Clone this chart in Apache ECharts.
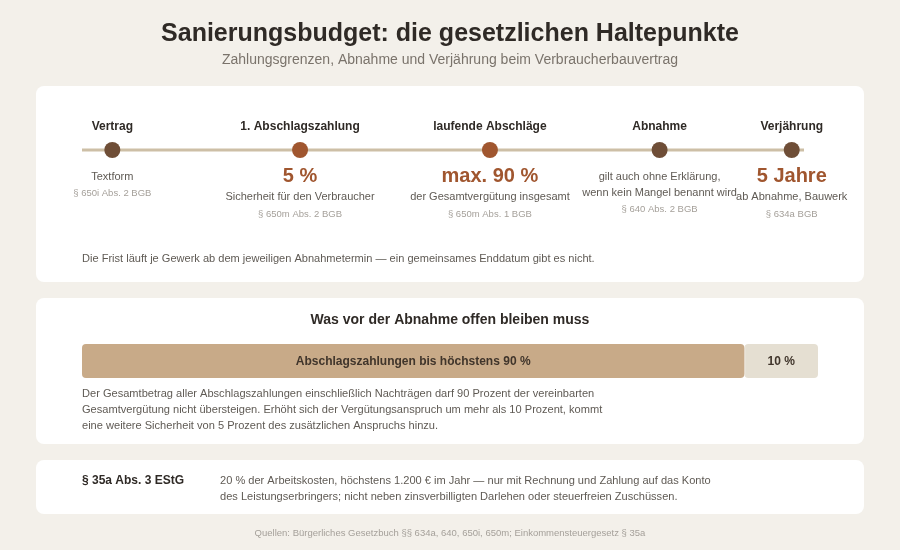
<!DOCTYPE html>
<html lang="de">
<head>
<meta charset="utf-8">
<title>Sanierungsbudget</title>
<script src="https://cdn.jsdelivr.net/npm/echarts@6/dist/echarts.min.js"></script>
<style>
  html, body { margin: 0; padding: 0; background: #f3f0ea; }
  #chart { width: 900px; height: 550px; }
</style>
</head>
<body>
<div id="chart"></div>
<script>
"use strict";

// Timeline stages, position in percent of the line length
var stageNames = ['Vertrag', '1. Abschlagszahlung', 'laufende Abschläge', 'Abnahme', 'Verjährung'];
var stagePositions = [4.2, 30.2, 56.5, 80, 98.3];
var stageBig = ['', '5 %', 'max. 90 %', '', '5 Jahre'];
var stageNotes = ['Textform', 'Sicherheit für den Verbraucher', 'der Gesamtvergütung insgesamt',
  'gilt auch ohne Erklärung,\nwenn kein Mangel benannt wird', 'ab Abnahme, Bauwerk'];
var stageRefs = ['§ 650i Abs. 2 BGB', '§ 650m Abs. 2 BGB', '§ 650m Abs. 1 BGB', '§ 640 Abs. 2 BGB', '§ 634a BGB'];
var stageColors = ['#6f4e37', '#a0562f', '#a0562f', '#6f4e37', '#6f4e37'];

// Split of the total price before acceptance
var splitNames = ['Abschlagszahlungen bis höchstens 90 %', '10 %'];
var splitValues = [90, 10];

var FONT = '"Liberation Sans", Arial, sans-serif';
var chart = echarts.init(document.getElementById('chart'));

function card(y, h) {
  return {
    type: 'rect', z: -1,
    shape: { x: 36, y: y, width: 828, height: h, r: 8 },
    style: { fill: '#ffffff' }
  };
}

function text(x, y, str, size, color, weight, align) {
  return {
    type: 'text', z: 10, x: x, y: y,
    style: {
      text: str, fill: color, fontFamily: FONT, fontSize: size,
      fontWeight: weight || 'normal', align: align || 'left', verticalAlign: 'middle'
    }
  };
}

var stagePoints = stagePositions.map(function (p, i) {
  return {
    value: [p, 0.5],
    name: stageNames[i],
    itemStyle: { color: stageColors[i], opacity: 1 }
  };
});

// Text under each dot: stages with a big figure start higher than the plain ones
var stageDetails = stagePositions.map(function (p, i) {
  var accent = stageBig[i] !== '';
  var below = accent
    ? '{big|' + stageBig[i] + '}\n{note|' + stageNotes[i] + '}\n{ref|' + stageRefs[i] + '}'
    : stageNotes[i].split('\n').map(function (l) { return '{note|' + l + '}'; }).join('\n') + '\n{ref2|' + stageRefs[i] + '}';
  return {
    value: [p, 0.5],
    below: below,
    label: { distance: accent ? 5 : 11 }
  };
});

var option = {
  backgroundColor: '#f3f0ea',
  animation: false,
  textStyle: { fontFamily: FONT },
  grid: [
    { left: 82, width: 722, top: 140, height: 20 },
    { left: 82, width: 736, top: 344, height: 34 }
  ],
  xAxis: [
    { gridIndex: 0, type: 'value', min: 0, max: 100, show: false },
    { gridIndex: 1, type: 'value', min: 0, max: 100, show: false }
  ],
  yAxis: [
    { gridIndex: 0, type: 'value', min: 0, max: 1, show: false },
    { gridIndex: 1, type: 'category', data: ['Summe'], show: false }
  ],
  series: [
    {
      type: 'line', xAxisIndex: 0, yAxisIndex: 0, symbol: 'none', silent: true,
      data: [[0, 0.5], [100, 0.5]],
      lineStyle: { color: '#cdbfa6', width: 3 }, z: 1
    },
    {
      type: 'scatter', xAxisIndex: 0, yAxisIndex: 0, symbolSize: 16, z: 3,
      data: stagePoints,
      label: {
        show: true, position: 'top', distance: 9,
        formatter: function (p) { return p.name; },
        fontFamily: FONT, fontSize: 12, fontWeight: 'bold', color: '#2f2a26'
      }
    },
    {
      type: 'scatter', xAxisIndex: 0, yAxisIndex: 0, symbolSize: 16, z: 2,
      itemStyle: { color: 'rgba(0,0,0,0)', opacity: 1 },
      data: stageDetails,
      label: {
        show: true, position: 'bottom', distance: 5, align: 'center',
        formatter: function (p) { return p.data.below; },
        rich: {
          big: { fontFamily: FONT, fontSize: 20, fontWeight: 'bold', color: '#a0562f', lineHeight: 26, align: 'center' },
          note: { fontFamily: FONT, fontSize: 11, color: '#5f5a54', lineHeight: 16, align: 'center' },
          ref: { fontFamily: FONT, fontSize: 9.5, color: '#a5a09a', lineHeight: 18, align: 'center' },
          ref2: { fontFamily: FONT, fontSize: 9.5, color: '#a5a09a', lineHeight: 16, align: 'center' }
        }
      }
    },
    {
      type: 'bar', xAxisIndex: 1, yAxisIndex: 1, stack: 'split', barWidth: 34, z: 3,
      name: splitNames[0], data: [splitValues[0]],
      itemStyle: { color: '#c8aa88', borderRadius: 4, shadowColor: '#ffffff', shadowBlur: 2 },
      label: {
        show: true, position: 'inside', formatter: splitNames[0], offset: [0, 1],
        fontFamily: FONT, fontSize: 12, fontWeight: 'bold', color: '#40352b'
      }
    },
    {
      type: 'bar', xAxisIndex: 1, yAxisIndex: 1, stack: 'split', barWidth: 34, z: 2,
      name: splitNames[1], data: [splitValues[1]],
      itemStyle: { color: '#e5dfd2', borderRadius: 4 },
      label: {
        show: true, position: 'inside', formatter: splitNames[1], offset: [0, 1],
        fontFamily: FONT, fontSize: 12, fontWeight: 'bold', color: '#40352b'
      }
    }
  ],
  graphic: [
    card(86, 196), card(298, 146), card(460, 54),
    text(450, 34, 'Sanierungsbudget: die gesetzlichen Haltepunkte', 25, '#2f2a26', 'bold', 'center'),
    text(450, 60, 'Zahlungsgrenzen, Abnahme und Verjährung beim Verbraucherbauvertrag', 14, '#7a736b', 'normal', 'center'),
    text(82, 258.5, 'Die Frist läuft je Gewerk ab dem jeweiligen Abnahmetermin — ein gemeinsames Enddatum gibt es nicht.', 11.06, '#5f5a54'),
    text(450, 320, 'Was vor der Abnahme offen bleiben muss', 14, '#2f2a26', 'bold', 'center'),
    text(82, 394, 'Der Gesamtbetrag aller Abschlagszahlungen einschließlich Nachträgen darf 90 Prozent der vereinbarten', 11.07, '#5f5a54'),
    text(82, 410, 'Gesamtvergütung nicht übersteigen. Erhöht sich der Vergütungsanspruch um mehr als 10 Prozent, kommt', 11.07, '#5f5a54'),
    text(82, 426, 'eine weitere Sicherheit von 5 Prozent des zusätzlichen Anspruchs hinzu.', 11.07, '#5f5a54'),
    text(82, 481, '§ 35a Abs. 3 EStG', 12, '#2f2a26', 'bold'),
    text(220, 481, '20 % der Arbeitskosten, höchstens 1.200 € im Jahr — nur mit Rechnung und Zahlung auf das Konto', 11.07, '#5f5a54'),
    text(220, 497, 'des Leistungserbringers; nicht neben zinsverbilligten Darlehen oder steuerfreien Zuschüssen.', 11.07, '#5f5a54'),
    text(450, 533.5, 'Quellen: Bürgerliches Gesetzbuch §§ 634a, 640, 650i, 650m; Einkommensteuergesetz § 35a', 9.5, '#a5a09a', 'normal', 'center')
  ]
};

chart.setOption(option);
</script>
</body>
</html>
